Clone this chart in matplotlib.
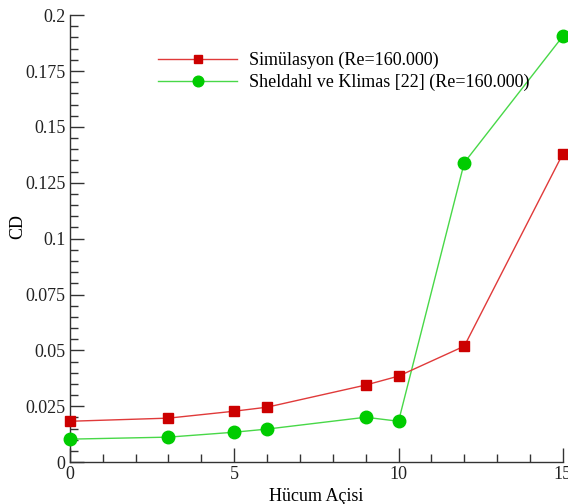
import matplotlib
matplotlib.use("Agg")
import matplotlib.pyplot as plt
from matplotlib.ticker import MultipleLocator

plt.rcParams["font.family"] = ["Liberation Serif", "DejaVu Serif"]

angle = [0, 3, 5, 6, 9, 10, 12, 15]
cd_sim = [0.0183, 0.0197, 0.0228, 0.0246, 0.0345, 0.0385, 0.0519, 0.138]
cd_exp = [0.0103, 0.0112, 0.0134, 0.0148, 0.0201, 0.0183, 0.134, 0.1906]

fig = plt.figure(figsize=(5.68, 5.04), dpi=100)
ax = fig.add_axes([0.123, 0.083, 0.868, 0.887])

ax.plot(angle, cd_sim, color="#e03a3a", linewidth=1.0, marker="s", markersize=7,
        markerfacecolor="#cc0000", markeredgecolor="#cc0000",
        label="Simülasyon (Re=160.000)", clip_on=False, zorder=4)
ax.plot(angle, cd_exp, color="#48d848", linewidth=1.0, marker="o", markersize=9,
        markerfacecolor="#00cc00", markeredgecolor="#00cc00",
        label="Sheldahl ve Klimas [22] (Re=160.000)", clip_on=False, zorder=3)

ax.set_xlim(0, 15)
ax.set_ylim(0, 0.2)
ax.xaxis.set_minor_locator(MultipleLocator(1))
ax.yaxis.set_minor_locator(MultipleLocator(0.005))
ax.set_yticks([0, 0.025, 0.05, 0.075, 0.1, 0.125, 0.15, 0.175, 0.2])
ax.set_yticklabels(["0", "0.025", "0.05", "0.075", "0.1", "0.125", "0.15", "0.175", "0.2"])
ax.set_xticks([0, 5, 10, 15])
ax.set_xticklabels(["0", "5", "10", "15"])

for side in ("top", "right"):
    ax.spines[side].set_visible(False)
for side in ("left", "bottom"):
    ax.spines[side].set_color("#333333")
    ax.spines[side].set_linewidth(1.0)

ax.tick_params(which="major", direction="in", length=10, width=1, labelsize=13,
               colors="#333333", labelcolor="#222222", pad=3)
ax.tick_params(which="minor", direction="in", length=6, width=1, colors="#333333")

ax.set_xlabel("Hücum Açisi", fontsize=13)
ax.xaxis.set_label_coords(0.5, -0.058)
ax.set_ylabel("CD", fontsize=13)
ax.yaxis.set_label_coords(-0.088, 0.528)

ax.legend(loc="upper left", bbox_to_anchor=(0.1785, 0.918), frameon=False,
          borderpad=0, borderaxespad=0, fontsize=13, handlelength=4.4,
          handletextpad=0.65, labelspacing=0.25, markerscale=0.85)

fig.savefig("out.png", dpi=100)
